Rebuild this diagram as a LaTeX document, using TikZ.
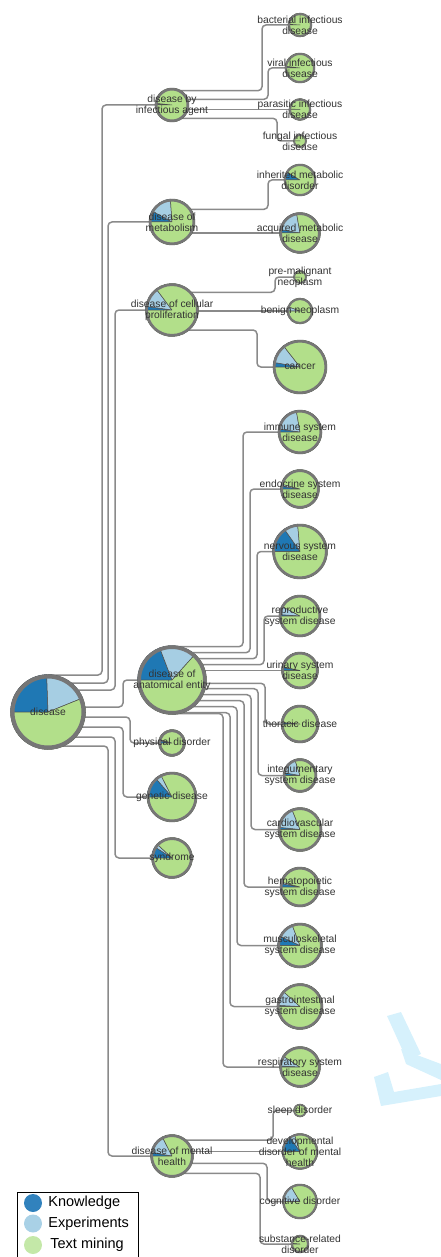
\documentclass[tikz,border=0pt]{standalone}
\usepackage{fontspec}
\setmainfont{Liberation Sans}
\usetikzlibrary{positioning,backgrounds}

\definecolor{knowc}{HTML}{1F78B4}
\definecolor{expc}{HTML}{A6CEE3}
\definecolor{minec}{HTML}{B2DF8A}
\definecolor{ringc}{HTML}{767676}
\definecolor{wedgec}{HTML}{4A4A4A}
\definecolor{linkc}{HTML}{8A8A8A}
\definecolor{labelc}{HTML}{333333}
\definecolor{legknow}{HTML}{3182BD}
\definecolor{legexp}{HTML}{A9D1E6}
\definecolor{legmine}{HTML}{C4E8A8}
\definecolor{markc}{HTML}{D6F1FC}

% pie node: [ring width]{name}{x,y}{radius}{knowledge sweep}{knowledge+experiments sweep}{label}
\newcommand{\piechart}[7][2.5]{%
  \filldraw[wedge, fill=knowc] (#3) -- ++(180:#4) arc[start angle=180, end angle=180-#5, radius=#4] -- cycle;
  \filldraw[wedge, fill=expc] (#3) -- ++(180-#5:#4) arc[start angle=180-#5, end angle=180-#6, radius=#4] -- cycle;
  \filldraw[wedge, fill=minec] (#3) -- ++(180-#6:#4) arc[start angle=180-#6, end angle=-180, radius=#4] -- cycle;
  \draw[ring, line width=#1pt] (#3) circle[radius=#4-#1/2];
  \node[lbl] (#2) at (#3) {#7};
}

\begin{document}
\begin{tikzpicture}[
    x=1pt, y=1pt,
    wedge/.style={draw=wedgec, line width=0.5pt, line join=round},
    ring/.style={draw=ringc},
    lbl/.style={align=center, inner sep=0pt, text=labelc, font=\fontsize{10.3}{11}\selectfont},
    link/.style={draw=linkc, line width=1.5pt, rounded corners=4pt},
    legdot/.style={circle, minimum size=18pt, inner sep=0pt},
    legtxt/.style={inner sep=0pt, anchor=west, font=\fontsize{14.5}{16}\selectfont}
]
\useasboundingbox (0,0) rectangle (441,-1257);

% watermark
\fill[markc] (387,-1016) -- (401,-1012) -- (421,-1054) -- (407,-1060) -- cycle;
\fill[markc] (401,-1049) -- (441,-1064) -- (441,-1080) -- (406,-1064) -- cycle;
\fill[markc] (374,-1077) -- (388,-1072) -- (394,-1092) -- (441,-1084) -- (441,-1096) -- (381,-1106) -- cycle;

% root
\piechart[4]{dis}{48,-712}{37.5}{88}{158}{disease}

% first level
\piechart{inf}{172,-105}{17}{3}{6}{disease by\\infectious agent}
\piechart{met}{172,-222}{23}{29}{86}{disease of\\metabolism}
\piechart{pro}{172,-310}{26.5}{8}{53}{disease of cellular\\proliferation}
\piechart[3.5]{ana}{172,-680}{34.5}{69}{132}{disease of\\anatomical entity}
\piechart{phy}{172,-743}{13.5}{10}{15}{physical disorder}
\piechart{gen}{172,-797}{25}{49}{63}{genetic disease}
\piechart{syn}{172,-858}{20.5}{33}{43}{syndrome}
\piechart{men}{172,-1156}{21.5}{10}{63}{disease of mental\\health}

% second level
\piechart[2]{bac}{300,-25}{12}{4}{4}{bacterial infectious\\disease}
\piechart[2]{vir}{300,-68}{15}{2}{7}{viral infectious\\disease}
\piechart[2]{par}{300,-109.5}{11}{3}{3}{parasitic infectious\\disease}
\piechart[1.5]{fun}{300,-141}{6.5}{0}{0}{fungal infectious\\disease}
\piechart[2]{inh}{300,-180}{16}{32}{32}{inherited metabolic\\disorder}
\piechart{acq}{300,-233}{20.5}{10}{80}{acquired metabolic\\disease}
\piechart[1.5]{pre}{300,-277}{6.5}{0}{0}{pre-malignant\\neoplasm}
\piechart[2]{ben}{300,-311}{13}{1}{20}{benign neoplasm}
\piechart{can}{300,-367}{27}{10}{52}{cancer}
\piechart{imm}{300,-432}{22}{8}{80}{immune system\\disease}
\piechart{endo}{300,-489}{19.5}{8}{15}{endocrine system\\disease}
\piechart{ner}{300,-551.5}{27.5}{55}{85}{nervous system\\disease}
\piechart{rep}{300,-616}{21}{4}{28}{reproductive\\system disease}
\piechart{uri}{300,-670.5}{18.5}{10}{12}{urinary system\\disease}
\piechart{tho}{300,-724}{19}{5}{5}{thoracic disease}
\piechart{int}{300,-775.5}{17}{10}{72}{integumentary\\system disease}
\piechart{car}{300,-829.5}{22}{6}{68}{cardiovascular\\system disease}
\piechart{hem}{300,-887}{20}{10}{15}{hematopoietic\\system disease}
\piechart{mus}{300,-945.5}{22.5}{25}{69}{musculoskeletal\\system disease}
\piechart{gas}{300,-1006.5}{23}{3}{42}{gastrointestinal\\system disease}
\piechart{res}{300,-1067}{20.5}{3}{33}{respiratory system\\disease}
\piechart[1.5]{sle}{300,-1110.5}{6.5}{0}{0}{sleep disorder}
\piechart[2]{dev}{300,-1151.5}{18}{55}{72}{developmental\\disorder of mental\\health}
\piechart[2]{cog}{300,-1201.5}{17.5}{0}{59}{cognitive disorder}
\piechart[2]{sub}{300,-1244}{9}{5}{5}{substance-related\\disorder}

% links
\begin{scope}[on background layer]
\draw[link] ([yshift=37pt]dis.center) -| (102,0 |- inf.center) -- (inf.center);
\draw[link] ([yshift=29pt]dis.center) -| (108,0 |- met.center) -- (met.center);
\draw[link] ([yshift=22pt]dis.center) -| (115,0 |- pro.center) -- (pro.center);
\draw[link] ([yshift=5pt]dis.center) -| (123,0 |- ana.center) -- (ana.center);
\draw[link] ([yshift=-5pt]dis.center) -| (130,0 |- phy.center) -- (phy.center);
\draw[link] ([yshift=-15pt]dis.center) -| (123,0 |- gen.center) -- (gen.center);
\draw[link] ([yshift=-25pt]dis.center) -| (115,0 |- syn.center) -- (syn.center);
\draw[link] ([yshift=-34pt]dis.center) -| (108,0 |- men.center) -- (men.center);

\draw[link] ([yshift=14.3pt]inf.center) -| (262,0 |- bac.center) -- (bac.center);
\draw[link] ([yshift=5.7pt]inf.center) -| (268,0 |- vir.center) -- (vir.center);
\draw[link] (inf.center |- par.center) -- (par.center);
\draw[link] ([yshift=-13.3pt]inf.center) -| (277,0 |- fun.center) -- (fun.center);

\draw[link] ([yshift=12.7pt]met.center) -| (268,0 |- inh.center) -- (inh.center);
\draw[link] (met.center |- acq.center) -- (acq.center);

\draw[link] ([yshift=17.7pt]pro.center) -| (275,0 |- pre.center) -- (pre.center);
\draw[link] (pro.center |- ben.center) -- (ben.center);
\draw[link] ([yshift=-20pt]pro.center) -| (257,0 |- can.center) -- (can.center);

\draw[link] ([yshift=33.3pt]ana.center) -| (243,0 |- imm.center) -- (imm.center);
\draw[link] ([yshift=27.3pt]ana.center) -| (250,0 |- endo.center) -- (endo.center);
\draw[link] ([yshift=21.3pt]ana.center) -| (257,0 |- ner.center) -- (ner.center);
\draw[link] ([yshift=15.3pt]ana.center) -| (264,0 |- rep.center) -- (rep.center);
\draw[link] (ana.center |- uri.center) -- (uri.center);
\draw[link] ([yshift=-3.3pt]ana.center) -| (265,0 |- tho.center) -- (tho.center);
\draw[link] ([yshift=-8.7pt]ana.center) -| (258,0 |- int.center) -- (int.center);
\draw[link] ([yshift=-14.7pt]ana.center) -| (251,0 |- car.center) -- (car.center);
\draw[link] ([yshift=-20.7pt]ana.center) -| (244,0 |- hem.center) -- (hem.center);
\draw[link] ([yshift=-26.7pt]ana.center) -| (237,0 |- mus.center) -- (mus.center);
\draw[link] ([yshift=-32.7pt]ana.center) -| (230,0 |- gas.center) -- (gas.center);
\draw[link] ([yshift=-33.5pt]ana.center) -| (223,0 |- res.center) -- (res.center);

\draw[link] ([yshift=16pt]men.center) -| (273,0 |- sle.center) -- (sle.center);
\draw[link] (men.center |- dev.center) -- (dev.center);
\draw[link] ([yshift=-7.3pt]men.center) -| (267,0 |- cog.center) -- (cog.center);
\draw[link] ([yshift=-17.3pt]men.center) -| (260,0 |- sub.center) -- (sub.center);
\end{scope}

% legend
\draw[black, line width=1pt] (17,-1192) rectangle (138,-1265);
\node[legdot, fill=legknow] (kdot) at (33,-1203) {};
\node[legdot, fill=legexp] (edot) at (33,-1223.5) {};
\node[legdot, fill=legmine] (tdot) at (33,-1245) {};
\node[legtxt, right=6pt of kdot] (ktxt) {Knowledge};
\node[legtxt, right=6pt of edot] (etxt) {Experiments};
\node[legtxt, right=8pt of tdot] (ttxt) {Text mining};

\end{tikzpicture}
\end{document}
